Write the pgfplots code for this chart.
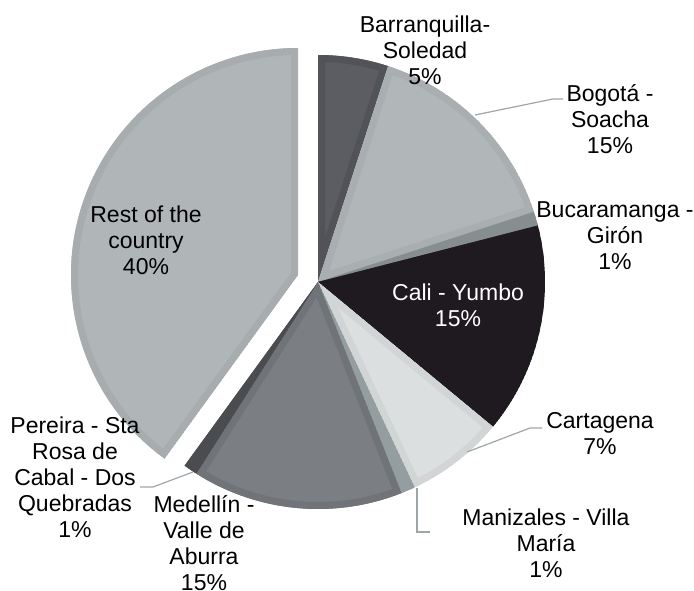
\documentclass[border=0pt]{standalone}
\usepackage{fontspec}
\setmainfont{Liberation Sans}
\usepackage{pgfplots}
\pgfplotsset{compat=1.18}

\definecolor{cBar}{HTML}{5C5D62}\definecolor{bBar}{HTML}{525358}
\definecolor{cBog}{HTML}{B1B7B9}\definecolor{bBog}{HTML}{A9AFB1}
\definecolor{cBuc}{HTML}{8D9496}\definecolor{bBuc}{HTML}{878E90}
\definecolor{cCal}{HTML}{1E1A1F}\definecolor{bCal}{HTML}{1E1A1F}
\definecolor{cCar}{HTML}{DCDFDF}\definecolor{bCar}{HTML}{D2D5D5}
\definecolor{cMan}{HTML}{9AA3A6}\definecolor{bMan}{HTML}{949DA0}
\definecolor{cMed}{HTML}{7B7E82}\definecolor{bMed}{HTML}{707377}
\definecolor{cPer}{HTML}{505256}\definecolor{bPer}{HTML}{4A4C50}
\definecolor{cRes}{HTML}{B0B6B8}\definecolor{bRes}{HTML}{A7ADAF}
\definecolor{leader}{HTML}{9EA6A9}

% #1,#2 cumulative percent, #3 fill, #4 bevel, #5,#6 centre (px)
\newcommand\slice[6]{%
  \begin{scope}
    \clip (axis cs:#5,#6) -- ++({90-3.6*#1}:227bp)
      arc[start angle={90-3.6*#1}, end angle={90-3.6*#2}, radius=227bp] -- cycle;
    \filldraw[fill=#3, draw=#4, line width=14bp] (axis cs:#5,#6) -- ++({90-3.6*#1}:227bp)
      arc[start angle={90-3.6*#1}, end angle={90-3.6*#2}, radius=227bp] -- cycle;
  \end{scope}}

\begin{document}
\begin{tikzpicture}[lbl/.style={font=\fontsize{23bp}{26bp}\selectfont, align=center, inner sep=0pt, anchor=base}]
\begin{axis}[name=ax, width=694bp, height=591bp, scale only axis, hide axis,
  xmin=0, xmax=694, ymin=0, ymax=591, y dir=reverse, clip=false]
% shares (%): 5 15 1 15 7 1 15 1 40
\slice{0}{5}{cBar}{bBar}{318}{282}
\slice{5}{20}{cBog}{bBog}{318}{282}
\slice{20}{21}{cBuc}{bBuc}{318}{282}
\slice{21}{36}{cCal}{bCal}{318}{282}
\slice{36}{43}{cCar}{bCar}{318}{282}
\slice{43}{44}{cMan}{bMan}{318}{282}
\slice{44}{59}{cMed}{bMed}{318}{282}
\slice{59}{60}{cPer}{bPer}{318}{282}
\slice{60}{100}{cRes}{bRes}{298}{275}

\draw[leader, line width=1.2bp] (axis cs:475,115) -- (axis cs:553,99) -- (axis cs:563,99);
\draw[leader, line width=1.2bp] (axis cs:467,452) -- (axis cs:530,428) -- (axis cs:542,428);
\draw[leader, line width=1.2bp] (axis cs:417,488) -- (axis cs:417,532) -- (axis cs:430,532);
\draw[leader, line width=1.2bp] (axis cs:193,472) -- (axis cs:153,487) -- (axis cs:140,487);

\node[lbl] at (axis cs:425,85) {Barranquilla-\\Soledad\\5\%};
\node[lbl] at (axis cs:610,153) {Bogotá -\\Soacha\\15\%};
\node[lbl] at (axis cs:615,269) {Bucaramanga -\\Girón\\1\%};
\node[lbl, text=white] at (axis cs:458,326) {Cali - Yumbo\\15\%};
\node[lbl] at (axis cs:600,454) {Cartagena\\7\%};
\node[lbl] at (axis cs:546,577) {Manizales - Villa\\María\\1\%};
\node[lbl] at (axis cs:204,590) {Medellín -\\Valle de\\Aburra\\15\%};
\node[lbl] at (axis cs:75,537) {Pereira - Sta\\Rosa de\\Cabal - Dos\\Quebradas\\1\%};
\node[lbl] at (axis cs:146,274) {Rest of the\\country\\40\%};
\end{axis}
\pgfresetboundingbox
\path (ax.south west) rectangle (ax.north east);
\end{tikzpicture}
\end{document}
